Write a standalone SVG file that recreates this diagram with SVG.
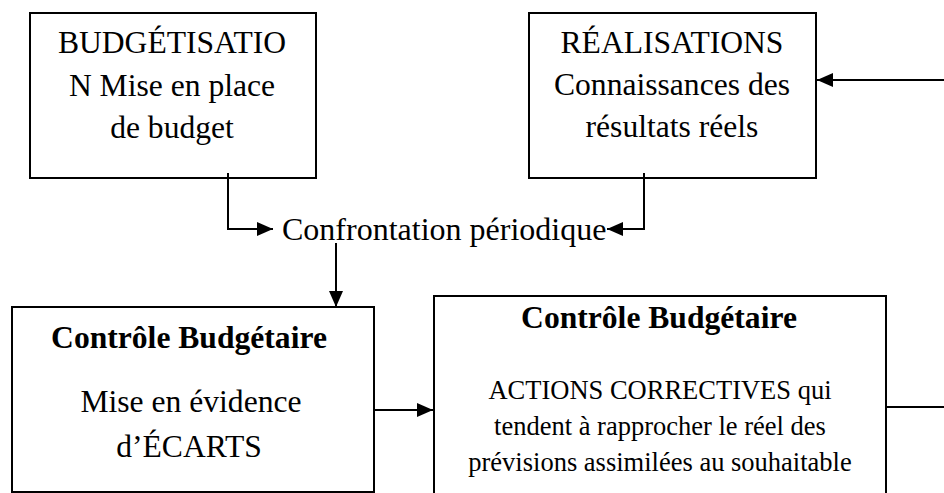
<svg xmlns="http://www.w3.org/2000/svg" width="944" height="493" viewBox="0 0 944 493">
<defs>
<style>
.box{fill:#fff;stroke:#000;stroke-width:2}
.ln{fill:none;stroke:#000;stroke-width:2}
.t{font-family:"Liberation Serif","Times New Roman",serif;font-size:31.6px;fill:#000;text-anchor:middle}
.b{font-weight:bold}
.s{font-size:26.5px}
</style>
<marker id="ah" viewBox="0 0 16 14" refX="16" refY="7" markerWidth="16" markerHeight="14" markerUnits="userSpaceOnUse" orient="auto">
<path d="M0,0 L16,7 L0,14 Z" fill="#000"/>
</marker>
</defs>
<rect width="944" height="493" fill="#fff"/>
<g id="budgetisation">
<rect class="box" x="30" y="13" width="286" height="165"/>
<text class="t" x="172" y="53">BUDGÉTISATIO</text>
<text class="t" x="172" y="96">N Mise en place</text>
<text class="t" x="172" y="138">de budget</text>
</g>
<g id="realisations">
<rect class="box" x="529" y="13" width="287" height="165"/>
<text class="t" x="672" y="53">RÉALISATIONS</text>
<text class="t" x="672" y="95">Connaissances des</text>
<text class="t" x="672" y="137">résultats réels</text>
</g>
<g id="confrontation">
<text class="t" x="282" y="240" style="text-anchor:start;font-size:32px">Confrontation périodique</text>
</g>
<g id="ecarts">
<rect class="box" x="12" y="307" width="362" height="185"/>
<text class="t b" x="189" y="348">Contrôle Budgétaire</text>
<text class="t" x="191" y="412">Mise en évidence</text>
<text class="t" x="189" y="457">d’ÉCARTS</text>
</g>
<g id="actions">
<rect class="box" x="434" y="296" width="452" height="210"/>
<text class="t b" x="659" y="328">Contrôle Budgétaire</text>
<text class="t s" x="660" y="399">ACTIONS CORRECTIVES qui</text>
<text class="t s" x="660" y="435">tendent à rapprocher le réel des</text>
<text class="t s" x="660" y="471">prévisions assimilées au souhaitable</text>
</g>
<g id="connectors">
<polyline class="ln" points="228,173 228,229 273,229" marker-end="url(#ah)"/>
<polyline class="ln" points="644,173 644,229 607,229" marker-end="url(#ah)"/>
<line class="ln" x1="336" y1="243" x2="336" y2="307" marker-end="url(#ah)"/>
<line class="ln" x1="374" y1="410" x2="433" y2="410" marker-end="url(#ah)"/>
<line class="ln" x1="886" y1="407" x2="944" y2="407"/>
<line class="ln" x1="944" y1="80" x2="817" y2="80" marker-end="url(#ah)"/>
</g>
</svg>
